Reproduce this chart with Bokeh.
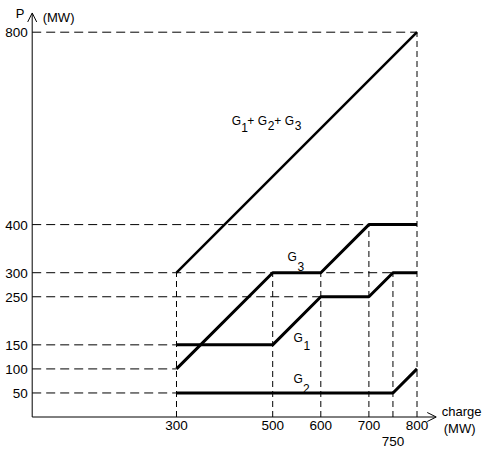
from bokeh.plotting import figure
from bokeh.models import Range1d, Arrow, OpenHead
from bokeh.core.properties import value
from bokeh.embed import file_html
from bokeh.resources import INLINE

# ---- data (MW) ----
charge = [300, 500, 600, 700, 750, 800]
g1 = [150, 150, 250, 250, 300, 300]
g2 = [50, 50, 50, 50, 50, 100]
g3 = [100, 300, 300, 400, 400, 400]
total = [300, 800]
total_charge = [300, 800]

y_ticks = [50, 100, 150, 250, 300, 400, 800]
x_ticks_main = [300, 500, 600, 700, 800]
x_ticks_low = [750]
axis_end = 840

# dashed reference lines: horizontal (level, end charge), vertical (charge, end level)
href_y = [800, 400, 300, 250, 150, 100, 50]
href_x = [800, 700, 750, 600, 300, 300, 300]
vref_x = [300, 500, 600, 700, 750, 800]
vref_y = [300, 300, 300, 400, 300, 800]

FONT = "Liberation Sans"

p = figure(width=490, height=456,
           x_range=Range1d(-65.9, 952.8), y_range=Range1d(-82.1, 865.9),
           output_backend="svg", toolbar_location=None,
           x_axis_type=None, y_axis_type=None,
           min_border=0)
p.outline_line_color = None
p.xgrid.visible = False
p.ygrid.visible = False
p.background_fill_color = "white"
p.border_fill_color = "white"

def txt(x, y, t, dx=0, dy=0, size="12px", align="left", baseline="alphabetic"):
    p.text(x=x, y=y, text=t, x_offset=dx, y_offset=dy,
           text_font=value(FONT), text_font_size=size, text_color="black",
           text_baseline=baseline, text_align=align)

# reference dashed lines
p.segment(x0=[0] * len(href_y), y0=href_y, x1=href_x, y1=href_y,
          line_color="black", line_width=1, line_dash="9 5")
p.segment(x0=vref_x, y0=[0] * len(vref_x), x1=vref_x, y1=vref_y,
          line_color="black", line_width=1, line_dash="6 4")

# curves
p.line(total_charge, total, line_color="black", line_width=2.5)
p.line(charge, g3, line_color="black", line_width=3)
p.line(charge, g1, line_color="black", line_width=3)
p.line(charge, g2, line_color="black", line_width=3)

# axes with arrows
p.add_layout(Arrow(end=OpenHead(size=9, line_width=1, line_color="black"),
                   x_start=0, y_start=0, x_end=axis_end, y_end=0, line_color="black", line_width=1))
p.add_layout(Arrow(end=OpenHead(size=9, line_width=1, line_color="black"),
                   x_start=0, y_start=0, x_end=0, y_end=axis_end, line_color="black", line_width=1))

# tick labels
txt([0] * len(y_ticks), y_ticks, [str(v) for v in y_ticks], dx=-4.5, dy=0.5,
    size="13.5px", align="right", baseline="middle")
txt(x_ticks_main, [0] * len(x_ticks_main), [str(v) for v in x_ticks_main], dy=4,
    size="13.5px", align="center", baseline="top")
txt(x_ticks_low, [0] * len(x_ticks_low), [str(v) for v in x_ticks_low], dy=20,
    size="13.5px", align="center", baseline="top")

# axis titles
txt([0], [axis_end], ["P"], dx=-16.5, dy=1, size="13px")
txt([0], [axis_end], ["(MW)"], dx=10.5, dy=4.5, size="13px")
txt([axis_end], [0], ["charge"], dx=5.5, dy=-5.5, size="13px")
txt([axis_end], [0], ["(MW)"], dx=7.5, dy=11, size="13px")

# curve labels
def sub_label(x, y, parts):
    for t, dx, dy in parts:
        txt([x], [y], [t], dx=dx, dy=dy)

sub_label(415, 615, [("G", 0, 0), ("1", 9.5, 6), ("+ G", 15.5, 0),
                     ("2", 36, 4), ("+ G", 42.5, 0), ("3", 63, 4)])
sub_label(531, 332, [("G", 0, 0), ("3", 10, 9)])
sub_label(543, 165, [("G", 0, 0), ("1", 10, 8)])
sub_label(543, 78, [("G", 0, 0), ("2", 9.5, 9)])

open("out.html", "w").write(file_html(p, INLINE))
